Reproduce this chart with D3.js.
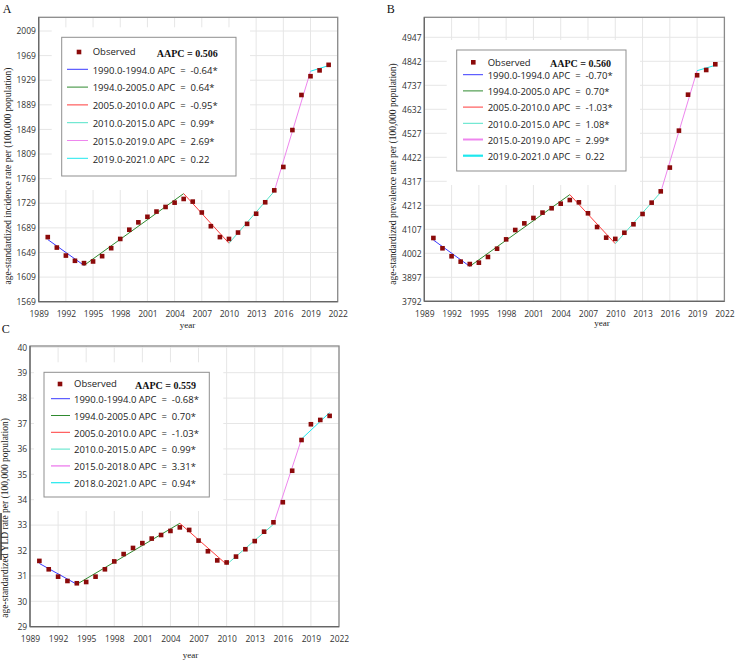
<!DOCTYPE html>
<html>
<head>
<meta charset="utf-8">
<script src="https://cdn.jsdelivr.net/npm/d3@7"></script>
<style>
  body { margin: 0; background: #fff; }
  text { white-space: pre; }
</style>
</head>
<body>
<div id="chart"></div>
<script>
// observed years and tick labels
var years = [1990, 1991, 1992, 1993, 1994, 1995, 1996, 1997, 1998, 1999, 2000, 2001, 2002, 2003, 2004, 2005,
             2006, 2007, 2008, 2009, 2010, 2011, 2012, 2013, 2014, 2015, 2016, 2017, 2018, 2019, 2020, 2021];
var xTicks = [1989, 1992, 1995, 1998, 2001, 2004, 2007, 2010, 2013, 2016, 2019, 2022];

// A: incidence
var incidenceObs = [1674, 1657, 1644, 1635.5, 1631.7, 1634.4, 1643, 1656, 1671, 1686, 1698, 1707, 1715.5, 1723, 1730, 1736,
                    1731.7, 1714, 1691.7, 1674, 1671, 1681.4, 1695.5, 1712, 1730.6, 1750, 1788, 1848, 1905, 1935.5, 1945, 1954];
var incidenceJoinYears = [1990, 1994, 2005, 2010, 2015, 2019, 2021];
var incidenceFit = [1670, 1628, 1744.7, 1664, 1748.5, 1943.6, 1952.8];
var incidenceTicks = [1569, 1609, 1649, 1689, 1729, 1769, 1809, 1849, 1889, 1929, 1969, 2009];
var incidenceLegend = ["1990.0-1994.0 APC  =  -0.64*", "1994.0-2005.0 APC  =  0.64*", "2005.0-2010.0 APC  =  -0.95*",
                       "2010.0-2015.0 APC  =  0.99*", "2015.0-2019.0 APC  =  2.69*", "2019.0-2021.0 APC  =  0.22"];

// B: prevalence
var prevalenceObs = [4069, 4024, 3989, 3965.5, 3955, 3961, 3986, 4022, 4063, 4104, 4133, 4156.6, 4180, 4199, 4219, 4235,
                     4225, 4177, 4117, 4070.5, 4065, 4092, 4129, 4174, 4223.6, 4273, 4377, 4538.6, 4696, 4781, 4804, 4829];
var prevalenceJoinYears = [1990, 1994, 2005, 2010, 2015, 2019, 2021];
var prevalenceFit = [4060, 3945, 4258.7, 4044, 4269, 4801, 4824.5];
var prevalenceTicks = [3792, 3897, 4002, 4107, 4212, 4317, 4422, 4527, 4632, 4737, 4842, 4947];
var prevalenceLegend = ["1990.0-1994.0 APC  =  -0.70*", "1994.0-2005.0 APC  =  0.70*", "2005.0-2010.0 APC  =  -1.03*",
                        "2010.0-2015.0 APC  =  1.08*", "2015.0-2019.0 APC  =  2.99*", "2019.0-2021.0 APC  =  0.22"];

// C: YLD
var yldObs = [31.59, 31.26, 30.97, 30.80, 30.71, 30.76, 30.97, 31.26, 31.57, 31.86, 32.10, 32.29, 32.47, 32.61, 32.77, 32.91,
              32.81, 32.39, 31.97, 31.61, 31.53, 31.76, 32.05, 32.37, 32.74, 33.11, 33.90, 35.14, 36.35, 36.97, 37.14, 37.30];
var yldJoinYears = [1990, 1994, 2005, 2010, 2015, 2018, 2021];
var yldFit = [31.49, 30.67, 33.07, 31.45, 33.03, 36.39, 37.43];
var yldTicks = [29, 30, 31, 32, 33, 34, 35, 36, 37, 38, 39, 40];
var yldLegend = ["1990.0-1994.0 APC  =  -0.68*", "1994.0-2005.0 APC  =  0.70*", "2005.0-2010.0 APC  =  -1.03*",
                 "2010.0-2015.0 APC  =  0.99*", "2015.0-2018.0 APC  =  3.31*", "2018.0-2021.0 APC  =  0.94*"];

var segColors = ["#3a3aff", "#2f8a2f", "#ff3b3b", "#52e3c8", "#ee86ee", "#1ee8ee"];

var svg = d3.select("#chart").append("svg")
    .attr("width", 736)
    .attr("height", 662);

function drawPanel(p) {
    var x = d3.scaleLinear().domain([1989, 2022]).range([p.left, p.right]);
    var y = d3.scaleLinear().domain([p.ticks[0], p.ticks[p.ticks.length - 1]]).range([p.bottom, p.tickTopY]);
    var g = svg.append("g");

    // grid
    g.selectAll(".vg").data(xTicks).enter().append("line")
        .attr("x1", d => x(d)).attr("x2", d => x(d))
        .attr("y1", p.top).attr("y2", p.bottom)
        .attr("stroke", "#e6e6e6").attr("stroke-width", 1);
    g.selectAll(".hg").data(p.ticks).enter().append("line")
        .attr("x1", p.left).attr("x2", p.right)
        .attr("y1", d => y(d)).attr("y2", d => y(d))
        .attr("stroke", "#e6e6e6").attr("stroke-width", 1);

    // white area behind legend
    var lg = p.legend;
    g.append("rect")
        .attr("x", lg.x - 10).attr("y", lg.y - 10)
        .attr("width", lg.w + 24).attr("height", lg.h + 24)
        .attr("fill", "#fff");

    // fitted segments
    for (var i = 0; i < p.joinYears.length - 1; i++) {
        g.append("line")
            .attr("x1", x(p.joinYears[i])).attr("y1", y(p.fit[i]))
            .attr("x2", x(p.joinYears[i + 1])).attr("y2", y(p.fit[i + 1]))
            .attr("stroke", segColors[i]).attr("stroke-width", 1);
    }

    // observed points
    g.selectAll(".pt").data(p.obs).enter().append("rect")
        .attr("x", (d, i) => x(years[i]) - 2.3)
        .attr("y", d => y(d) - 2.3)
        .attr("width", 4.6).attr("height", 4.6)
        .attr("fill", "#8b0a0a");

    // frame and axes
    g.append("rect")
        .attr("x", p.left).attr("y", p.top)
        .attr("width", p.right - p.left).attr("height", p.bottom - p.top)
        .attr("fill", "none").attr("stroke", "#8a8a8a").attr("stroke-width", 1.3);
    g.append("line").attr("x1", p.left).attr("x2", p.left).attr("y1", p.top).attr("y2", p.bottom)
        .attr("stroke", "#666").attr("stroke-width", 1.2);
    g.append("line").attr("x1", p.left).attr("x2", p.right).attr("y1", p.bottom).attr("y2", p.bottom)
        .attr("stroke", "#666").attr("stroke-width", 1.2);

    var ya = g.append("g")
        .attr("transform", "translate(" + p.left + ",0)")
        .call(d3.axisLeft(y).tickValues(p.ticks).tickSize(0).tickPadding(2.8).tickFormat(d3.format("d")));
    ya.select(".domain").remove();
    ya.selectAll("text").attr("font-family", "Open Sans").attr("font-size", "8.5px").attr("fill", "#333");

    var xa = g.append("g")
        .attr("transform", "translate(0," + p.bottom + ")")
        .call(d3.axisBottom(x).tickValues(xTicks).tickSize(0).tickPadding(9.5).tickFormat(d3.format("d")));
    xa.select(".domain").remove();
    xa.selectAll("text").attr("font-family", "Open Sans").attr("font-size", "8.5px").attr("fill", "#333");

    // axis titles
    g.append("text")
        .attr("transform", "translate(" + p.yTitleX + "," + p.yTitleY + ") rotate(-90)")
        .attr("dy", "0.35em")
        .attr("text-anchor", "middle")
        .attr("font-family", "Liberation Serif")
        .attr("font-size", "9.5px")
        .attr("fill", "#222")
        .text(p.yTitle);
    g.append("text")
        .attr("x", p.xTitleX).attr("y", p.xTitleY)
        .attr("text-anchor", "middle")
        .attr("font-family", "Liberation Serif")
        .attr("font-size", "9px")
        .attr("fill", "#222")
        .text("year");

    // panel letter
    g.append("text")
        .attr("x", p.letterX).attr("y", p.letterY)
        .attr("font-family", "Liberation Serif")
        .attr("font-size", "12px")
        .attr("fill", "#111")
        .text(p.letter);

    // legend
    g.append("rect")
        .attr("x", lg.x).attr("y", lg.y)
        .attr("width", lg.w).attr("height", lg.h)
        .attr("fill", "#fff").attr("stroke", "#8f8f8f").attr("stroke-width", 1);
    g.append("rect")
        .attr("x", lg.markerX - 2.3).attr("y", lg.row0 - 2.3)
        .attr("width", 4.6).attr("height", 4.6)
        .attr("fill", "#8b0a0a");
    g.append("text")
        .attr("x", lg.textX).attr("y", lg.row0).attr("dy", "0.35em")
        .attr("font-family", "Open Sans").attr("font-size", "9.5px").attr("fill", "#222")
        .text("Observed");
    g.append("text")
        .attr("x", lg.aapcX).attr("y", lg.row0 + 1).attr("dy", "0.35em")
        .attr("font-family", "Liberation Serif").attr("font-size", "10px").attr("font-weight", "bold")
        .attr("fill", "#111")
        .text("AAPC = " + p.aapc);

    p.labels.forEach(function (lab, i) {
        var ry = lg.row1 + i * lg.step;
        g.append("line")
            .attr("x1", lg.s0).attr("x2", lg.s1).attr("y1", ry).attr("y2", ry)
            .attr("stroke", segColors[i]).attr("stroke-width", lg.widths[i]);
        g.append("text")
            .attr("x", lg.textX).attr("y", ry + 1).attr("dy", "0.35em")
            .attr("font-family", "Open Sans").attr("font-size", "9.5px").attr("fill", "#222")
            .text(lab);
    });
}

drawPanel({
    letter: "A", letterX: 2.7, letterY: 12.7,
    left: 38.7, right: 337.7, top: 17.3, bottom: 301.7, tickTopY: 31,
    ticks: incidenceTicks, obs: incidenceObs, joinYears: incidenceJoinYears, fit: incidenceFit,
    labels: incidenceLegend, aapc: "0.506",
    yTitle: "age-standardized incidence rate per (100,000 population)", yTitleX: 7.5, yTitleY: 176,
    xTitleX: 187.5, xTitleY: 327.5,
    legend: { x: 61.7, y: 37.3, w: 174.3, h: 138.7, row0: 52, row1: 69.3, step: 17.8,
              s0: 67, s1: 88, textX: 92.7, markerX: 79, aapcX: 156.7,
              widths: [1, 1, 1, 1, 1, 1] }
});

drawPanel({
    letter: "B", letterX: 386.7, letterY: 12.7,
    left: 424.3, right: 724.4, top: 17.3, bottom: 301.3, tickTopY: 37.3,
    ticks: prevalenceTicks, obs: prevalenceObs, joinYears: prevalenceJoinYears, fit: prevalenceFit,
    labels: prevalenceLegend, aapc: "0.560",
    yTitle: "age-standardized prevalence rate per (100,000 population)", yTitleX: 393, yTitleY: 174,
    xTitleX: 602, xTitleY: 326,
    legend: { x: 456.7, y: 50, w: 169.3, h: 121, row0: 62.3, row1: 74.7, step: 16.2,
              s0: 463, s1: 483, textX: 487.7, markerX: 473.3, aapcX: 550,
              widths: [1, 1, 1, 1, 2, 2.2] }
});

drawPanel({
    letter: "C", letterX: 1.7, letterY: 332.7,
    left: 30, right: 339, top: 346, bottom: 626.7, tickTopY: 347.3,
    ticks: yldTicks, obs: yldObs, joinYears: yldJoinYears, fit: yldFit,
    labels: yldLegend, aapc: "0.559",
    yTitle: "age-standardized YLD rate per (100,000 population)", yTitleX: 4.5, yTitleY: 518,
    xTitleX: 190.5, xTitleY: 658,
    legend: { x: 44, y: 372.3, w: 165.3, h: 124.7, row0: 384, row1: 398.7, step: 16.8,
              s0: 51, s1: 70, textX: 74, markerX: 60, aapcX: 135,
              widths: [1, 1, 1, 1, 1.4, 1.2] }
});

// dark edge fragment at the left of panel C
svg.append("line")
    .attr("x1", 1).attr("x2", 1).attr("y1", 513).attr("y2", 560)
    .attr("stroke", "#333").attr("stroke-width", 1.5);
</script>
</body>
</html>
